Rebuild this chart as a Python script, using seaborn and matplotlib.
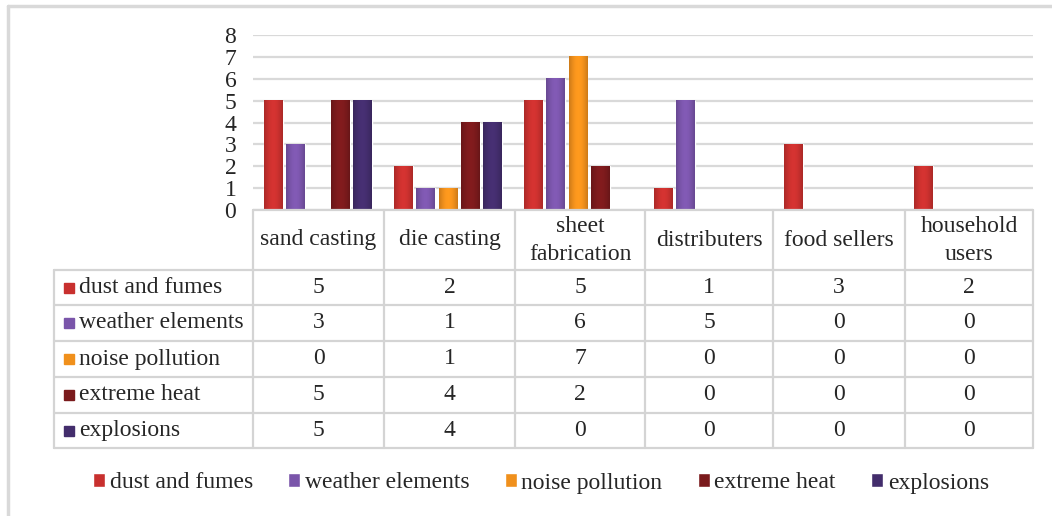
import numpy as np
import pandas as pd
import matplotlib.pyplot as plt
import matplotlib.colors as mcolors
import seaborn as sns
from matplotlib.patches import Patch, Rectangle

# --- data ---
categories = ['sand casting', 'die casting', 'sheet fabrication',
              'distributers', 'food sellers', 'household users']
header_lines = [['sand casting'], ['die casting'], ['sheet', 'fabrication'],
                ['distributers'], ['food sellers'], ['household', 'users']]
series = ['dust and fumes', 'weather elements', 'noise pollution',
          'extreme heat', 'explosions']
dust_and_fumes = [5, 2, 5, 1, 3, 2]
weather_elements = [3, 1, 6, 5, 0, 0]
noise_pollution = [0, 1, 7, 0, 0, 0]
extreme_heat = [5, 4, 2, 0, 0, 0]
explosions = [5, 4, 0, 0, 0, 0]
colors = ['#c8302e', '#7a55aa', '#f0901c', '#7a1a1c', '#432d6c']

values = [dust_and_fumes, weather_elements, noise_pollution, extreme_heat, explosions]
df = pd.DataFrame([
    {'category': c, 'series': s, 'value': v[i]}
    for s, v in zip(series, values)
    for i, c in enumerate(categories)
])

sns.set_style('white')
plt.rcParams['font.family'] = ['Liberation Serif', 'DejaVu Serif']
FS = 17

W, H = 1052, 516
fig = plt.figure(figsize=(W / 100, H / 100), dpi=100)

# --- bar chart ---
left, right, bottom, top = 253, 1033, 210, 35
ax = fig.add_axes([left / W, 1 - bottom / H, (right - left) / W, (bottom - top) / H])
sns.barplot(data=df, x='category', y='value', hue='series', order=categories,
            hue_order=series, palette=colors, width=0.855, gap=0.15,
            saturation=1, legend=False, ax=ax)

# soft cylinder shading on each bar
t = np.linspace(0, 1, 80)
shade = 0.85 + 0.22 * np.sin(np.pi * t)
for p in list(ax.patches):
    h = p.get_height()
    if h <= 0:
        continue
    rgb = np.array(mcolors.to_rgb(p.get_facecolor()))
    grad = np.clip(rgb[None, :] * shade[:, None], 0, 1)[None, :, :]
    x0, w = p.get_x(), p.get_width()
    ax.imshow(grad, extent=[x0, x0 + w, 0, h], aspect='auto',
              interpolation='bilinear', zorder=p.get_zorder() + 0.1)

ax.set_xlim(-0.5, len(categories) - 0.5)
ax.set_ylim(0, 8)
ax.set_yticks(range(0, 9))
ax.yaxis.grid(True, color='#d9d9d9', linewidth=1.6)
ax.set_axisbelow(True)
ax.set_xticks([])
ax.set_xlabel('')
ax.set_ylabel('')
ax.tick_params(axis='y', length=0, pad=12, labelsize=FS)
for sp in ax.spines.values():
    sp.set_visible(False)

# --- data table (pixel coordinates overlay) ---
tab = fig.add_axes([0, 0, 1, 1], facecolor='none')
tab.set_xlim(0, W)
tab.set_ylim(H, 0)
tab.axis('off')
lc = '#d4d4d4'
lw = 1.6
col_x = [253, 384, 515, 645, 773, 905, 1033]
row_y = [270, 305, 341, 377, 413, 448]
tab_left = 54

tab.plot([col_x[0], col_x[-1]], [210, 210], color=lc, lw=lw)
for x in col_x:
    tab.plot([x, x], [210, row_y[-1]], color=lc, lw=lw)
tab.plot([tab_left, tab_left], [row_y[0], row_y[-1]], color=lc, lw=lw)
for y in row_y:
    tab.plot([tab_left, col_x[-1]], [y, y], color=lc, lw=lw)

for j, lines in enumerate(header_lines):
    cx = (col_x[j] + col_x[j + 1]) / 2
    if len(lines) == 1:
        tab.text(cx, 240, lines[0], ha='center', va='center', fontsize=FS)
    else:
        tab.text(cx, 226, lines[0], ha='center', va='center', fontsize=FS)
        tab.text(cx, 254, lines[1], ha='center', va='center', fontsize=FS)

for i, (s, v, c) in enumerate(zip(series, values, colors)):
    cy = (row_y[i] + row_y[i + 1]) / 2
    tab.add_patch(Rectangle((64, cy - 5), 10, 10, color=c))
    tab.text(79, cy, s, ha='left', va='center', fontsize=FS)
    for j in range(len(categories)):
        cx = (col_x[j] + col_x[j + 1]) / 2
        tab.text(cx, cy, str(v[j]), ha='center', va='center', fontsize=FS)

# outer chart border (left and top visible)
tab.plot([8, 8], [6, H], color='#d9d9d9', lw=2.5)
tab.plot([8, W], [6, 6], color='#d9d9d9', lw=2.5)

# --- legend ---
handles = [Patch(facecolor=c, label=s) for s, c in zip(series, colors)]
fig.legend(handles=handles, loc='center', bbox_to_anchor=(541 / W, 1 - 483 / H),
           ncol=5, frameon=False, fontsize=FS, handlelength=0.5, handleheight=0.5,
           handletextpad=0.2, columnspacing=1.5)

fig.savefig('out.png', dpi=100)
